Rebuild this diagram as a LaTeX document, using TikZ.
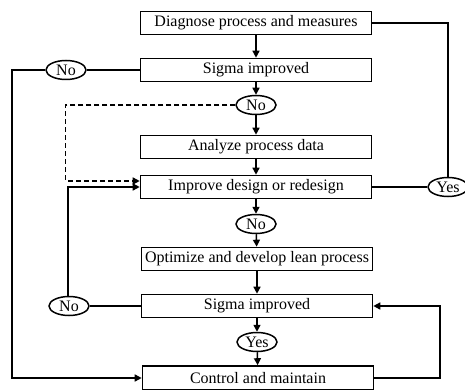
\documentclass[tikz,border=0pt]{standalone}
\usepackage{fontspec}
\setmainfont{Liberation Serif}
\usetikzlibrary{shapes.geometric,arrows.meta}
\begin{document}
\begin{tikzpicture}[x=1pt,y=-1pt,
  font=\fontsize{16}{18}\selectfont,
  stepbox/.style={draw,line width=1.6pt,minimum width=231pt,minimum height=23pt,inner sep=0pt},
  oval/.style={draw,ellipse,line width=1.5pt,minimum width=40pt,minimum height=19pt,inner sep=0pt},
  conn/.style={line width=1.5pt},
  arr/.style={conn,-{Triangle[length=7pt,width=7pt]}},
  dsh/.style={arr,dash pattern=on 5pt off 3pt}]
\useasboundingbox (0,0) rectangle (465,390);
\node[stepbox] (b1) at (256,23) {Diagnose process and measures};
\node[stepbox] (b2) at (256,70) {Sigma improved};
\node[oval] (n1) at (66,70) {No};
\node[oval] (n2) at (256,105) {No};
\node[stepbox] (b3) at (256,147) {Analyze process data};
\node[stepbox] (b4) at (256,187) {Improve design or redesign};
\node[oval] (y1) at (448,187) {Yes};
\node[oval] (n3) at (256,224) {No};
\node[stepbox] (b5) at (257,259) {Optimize and develop lean process};
\node[stepbox] (b6) at (257,306) {Sigma improved};
\node[oval] (n4) at (69,306) {No};
\node[oval] (y2) at (257,342) {Yes};
\node[stepbox,minimum height=24pt] (b7) at (258,378) {Control and maintain};
\coordinate (lx) at (12,0);
\coordinate (rx) at (440,0);
\draw[arr] (b1) -- (b2);
\draw[arr] (b2) -- (n2);
\draw[arr] (n2) -- (b3);
\draw[arr] (b3) -- (b4);
\draw[arr] (b4) -- (n3);
\draw[arr] (n3) -- (b5);
\draw[arr] (b5) -- (b6);
\draw[arr] (b6) -- (y2);
\draw[arr] (y2) -- (b7);
\draw[conn] (b1.east) -| (y1.north);
\draw[conn] (b4.east) -- (y1.west);
\draw[conn] (b2.west) -- (n1.east);
\draw[arr] (n1.west) -| (lx |- b2.west) |- (b7.west);
\draw[dsh] (n2.west) -| ([xshift=-74pt,yshift=6pt]b4.west) -- ([yshift=6pt]b4.west);
\draw[conn] (b6.west) -- (n4.east);
\draw[arr] ([xshift=-1pt]n4.north) |- (b4.west);
\draw[arr] (b7.east) -| (rx |- b6.east) -- (b6.east);
\end{tikzpicture}
\end{document}
